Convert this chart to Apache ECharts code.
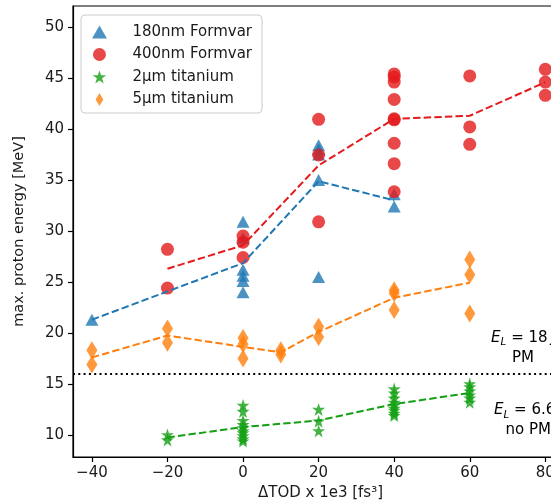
<!DOCTYPE html>
<html>
<head>
<meta charset="utf-8">
<script src="https://cdn.jsdelivr.net/npm/echarts@6/dist/echarts.min.js"></script>
<style>
  html, body { margin: 0; padding: 0; background: #fff; }
  #chart { width: 551px; height: 504px; }
</style>
</head>
<body>
<div id="chart"></div>
<script>
// ΔTOD settings (x 1e3 fs^3) and the maximum proton energies (MeV) measured at each setting.
const tod180 = [-40, 0, 20, 40];
const energy180 = [
  [21.3],
  [30.9, 29.3, 26.2, 25.6, 25.1, 24.0],
  [38.4, 38.0, 37.5, 35.0, 25.5],
  [33.6, 32.4]
];

const tod400 = [-20, 0, 20, 40, 60, 80];
const energy400 = [
  [28.2, 24.4],
  [29.5, 28.9, 27.4],
  [40.95, 37.45, 30.9],
  [45.4, 45.1, 44.6, 42.9, 41.0, 40.9, 38.6, 36.6, 33.85],
  [45.2, 40.2, 38.5],
  [45.85, 44.6, 43.3]
];

const todTi2 = [-20, 0, 20, 40, 60];
const energyTi2 = [
  [10.0, 9.5],
  [12.9, 12.3, 11.4, 11.0, 10.7, 10.4, 10.2, 9.9, 9.6, 9.4],
  [12.5, 11.35, 10.4],
  [14.5, 14.1, 13.6, 13.2, 12.9, 12.6, 12.4, 12.1, 11.9],
  [15.0, 14.7, 14.3, 13.9, 13.6, 13.2]
];

const todTi5 = [-40, -20, 0, 10, 20, 40, 60];
const energyTi5 = [
  [18.3, 16.9],
  [20.45, 19.05],
  [19.5, 18.9, 17.5],
  [18.3, 17.9],
  [20.6, 19.6],
  [24.2, 23.9, 22.25],
  [27.2, 25.7, 21.9]
];

const seriesNames = ['180nm Formvar', '400nm Formvar', '2\u00b5m titanium', '5\u00b5m titanium'];
const xTicks = [-40, -20, 0, 20, 40, 60, 80];
const yTicks = [10, 15, 20, 25, 30, 35, 40, 45, 50];

// Separation between the two laser energy regimes
const regimeLevel = 16;
const regimeNotes = [
  { x: 74.1, y: 18.53, value: '18', second: 'PM' },
  { x: 75.5, y: 11.44, value: '6.6', second: 'no PM' }
];

const FONT = '"DejaVu Sans", sans-serif';
const COLORS = ['#1f77b4', '#e41a1c', '#14a014', '#ff7f0e'];
const STAR = 'path://M50,0 L61.8,35.1 L100,35.1 L69.1,57.6 L80.9,95.1 L50,73 L19.1,95.1 L30.9,57.6 L0,35.1 L38.2,35.1 Z';
const TRIANGLE = 'path://M50,0 L100,87 L0,87 Z';
const TALL_DIAMOND = 'path://M5,0 L10,8.5 L5,17 L0,8.5 Z';

function points(xs, groups) {
  const out = [];
  xs.forEach((x, i) => groups[i].forEach(v => out.push([x, v])));
  return out;
}
function means(xs, groups) {
  return xs.map((x, i) => [x, groups[i].reduce((a, b) => a + b, 0) / groups[i].length]);
}

const groups = [
  { xs: tod180, ys: energy180, symbol: 'triangle', size: [13, 12] },
  { xs: tod400, ys: energy400, symbol: 'circle', size: 13 },
  { xs: todTi2, ys: energyTi2, symbol: STAR, size: 13 },
  { xs: todTi5, ys: energyTi5, symbol: 'diamond', size: [11, 18] }
];

const series = [];
groups.forEach((g, i) => {
  series.push({
    name: seriesNames[i],
    type: 'scatter',
    data: points(g.xs, g.ys),
    symbol: g.symbol,
    symbolSize: g.size,
    itemStyle: { color: COLORS[i], opacity: 0.8 },
    z: 2,
    animation: false
  });
});
groups.forEach((g, i) => {
  series.push({
    name: seriesNames[i] + ' mean',
    type: 'line',
    data: means(g.xs, g.ys),
    showSymbol: false,
    symbol: 'none',
    lineStyle: { color: COLORS[i], width: 2, type: [7.4, 3.2] },
    z: 3,
    animation: false,
    silent: true
  });
});
// dotted regime boundary
series.push({
  type: 'line',
  data: [],
  markLine: {
    silent: true,
    symbol: 'none',
    label: { show: false },
    lineStyle: { color: '#000', width: 2, type: [2, 3.3] },
    data: [{ yAxis: regimeLevel }],
    animation: false
  },
  z: 1
});

const axisText = { color: '#1a1a1a', fontSize: 15, fontFamily: FONT };

const chart = echarts.init(document.getElementById('chart'), null, { renderer: 'canvas' });
chart.setOption({
  animation: false,
  backgroundColor: '#fff',
  grid: {
    left: 73, right: -17, top: 6, bottom: 47,
    outerBoundsMode: 'none', containLabel: false,
    show: true, borderColor: '#000', borderWidth: 1.2, backgroundColor: 'transparent'
  },
  xAxis: {
    type: 'value', min: -45, max: 86,
    name: '\u0394TOD x 1e3 [fs\u00b3]', nameLocation: 'middle', nameGap: 29,
    nameTextStyle: axisText,
    axisLine: { show: true, onZero: false, lineStyle: { color: '#000', width: 1.2 } },
    axisTick: { show: true, length: 5, customValues: xTicks, lineStyle: { color: '#000', width: 1.2 } },
    axisLabel: { customValues: xTicks, margin: 9, ...axisText,
      formatter: v => (v < 0 ? '\u2212' + Math.abs(v) : String(v)) },
    splitLine: { show: false }
  },
  yAxis: {
    type: 'value', min: 7.84, max: 52.06,
    name: 'max. proton energy [MeV]', nameLocation: 'middle', nameGap: 46,
    nameTextStyle: { ...axisText, fontSize: 14.5 },
    axisLine: { show: true, onZero: false, lineStyle: { color: '#000', width: 1.2 } },
    axisTick: { show: true, length: 5, customValues: yTicks, lineStyle: { color: '#000', width: 1.2 } },
    axisLabel: { customValues: yTicks, margin: 9, ...axisText },
    splitLine: { show: false }
  },
  legend: {
    orient: 'vertical',
    left: 81, top: 15,
    padding: [9.5, 10, 6, 11],
    itemWidth: 24, itemHeight: 13, itemGap: 7.5,
    backgroundColor: 'rgba(255,255,255,0.8)',
    borderColor: '#cccccc', borderWidth: 1, borderRadius: 4,
    textStyle: { ...axisText, padding: [0, 0, 0, 16] },
    data: [
      { name: seriesNames[0], icon: TRIANGLE },
      { name: seriesNames[1], icon: 'circle' },
      { name: seriesNames[2], icon: STAR },
      { name: seriesNames[3], icon: TALL_DIAMOND }
    ],
    selectedMode: false
  },
  series: series
});

// Laser energy annotations placed in data coordinates
const rich = {
  e: { fontFamily: FONT, fontStyle: 'italic', fontSize: 15, color: '#1a1a1a', lineHeight: 20 },
  s: { fontFamily: FONT, fontStyle: 'italic', fontSize: 10.5, color: '#1a1a1a', lineHeight: 20, verticalAlign: 'bottom' },
  n: { fontFamily: FONT, fontSize: 15, color: '#1a1a1a', lineHeight: 20 }
};
chart.setOption({
  graphic: regimeNotes.map(n => {
    const p = chart.convertToPixel({ gridIndex: 0 }, [n.x, n.y]);
    return {
      type: 'text', x: p[0], y: p[1], z: 10, silent: true,
      style: {
        text: '{e|E}{s|L}{n| = ' + n.value + '\u2009J}\n{n|' + n.second + '}',
        align: 'center', verticalAlign: 'middle', rich: rich
      }
    };
  })
});
</script>
</body>
</html>
